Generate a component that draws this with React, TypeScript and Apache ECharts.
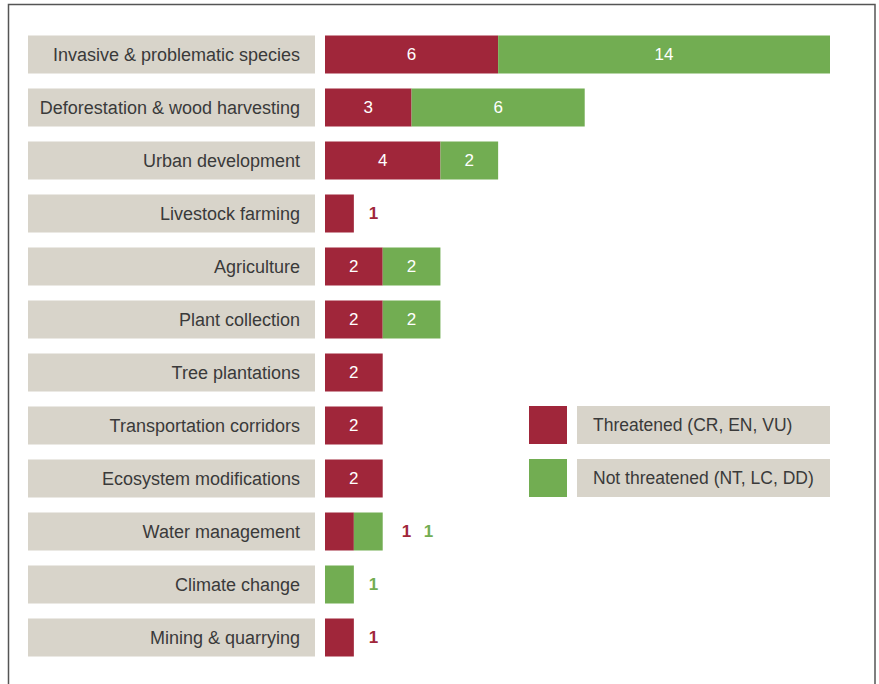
import React, { useEffect, useRef } from "react";
import * as echarts from "echarts";

const categories = [
  "Invasive & problematic species",
  "Deforestation & wood harvesting",
  "Urban development",
  "Livestock farming",
  "Agriculture",
  "Plant collection",
  "Tree plantations",
  "Transportation corridors",
  "Ecosystem modifications",
  "Water management",
  "Climate change",
  "Mining & quarrying",
];
const threatened = [6, 3, 4, 1, 2, 2, 2, 2, 2, 1, 0, 1];
const notThreatened = [14, 6, 2, 0, 2, 2, 0, 0, 0, 1, 1, 0];
const seriesNames = ["Threatened (CR, EN, VU)", "Not threatened (NT, LC, DD)"];

const RED = "#a0263a";
const GREEN = "#72ad52";
const BOX = "#d8d4ca";

function makeData(values: number[], other: number[], color: string, isFirst: boolean) {
  return values.map((v, i) => {
    if (v === 0) return { value: null };
    if (v === 1) {
      const both = values[i] === 1 && other[i] === 1;
      let offset = [0, 0];
      if (both) offset = isFirst ? [33, 0] : [26, 0];
      return {
        value: v,
        label: {
          show: true,
          position: "right",
          distance: 15,
          offset,
          color,
          fontWeight: "bold",
        },
      };
    }
    return { value: v };
  });
}

export default function App() {
  const ref = useRef<HTMLDivElement>(null);
  useEffect(() => {
    document.body.style.margin = "0";
    const chart = echarts.init(ref.current!, null, { renderer: "svg" });
    const font = "'Liberation Sans', Arial, sans-serif";
    chart.setOption({
      animation: false,
      textStyle: { fontFamily: font },
      grid: { left: 325, top: 28, width: 505, height: 636, containLabel: false },
      xAxis: {
        type: "value",
        min: 0,
        max: 17.5,
        show: false,
      },
      yAxis: {
        type: "category",
        data: categories,
        inverse: true,
        axisLine: { show: false },
        axisTick: { show: false },
        splitLine: { show: false },
        axisLabel: {
          margin: 10,
          color: "#3a3a3a",
          fontSize: 18,
          fontFamily: font,
          backgroundColor: BOX,
          width: 272,
          height: 38,
          lineHeight: 38,
          align: "right",
          padding: [0, 15, 0, 0],
        },
      },
      legend: {
        orient: "vertical",
        left: 529,
        top: 406,
        padding: 0,
        itemWidth: 38,
        itemHeight: 38,
        itemGap: 15,
        icon: "rect",
        data: seriesNames,
        formatter: (name: string) => `{g|}{b|${name}}`,
        textStyle: {
          rich: {
            g: { width: 5, height: 38 },
            b: {
              backgroundColor: BOX,
              width: 237,
              height: 38,
              lineHeight: 38,
              padding: [0, 0, 0, 16],
              fontSize: 17.5,
              color: "#3a3a3a",
              fontFamily: font,
            },
          },
        },
      },
      graphic: [
        {
          type: "rect",
          shape: { x: 8.5, y: 4.5, width: 866.5, height: 720 },
          style: { fill: "none", stroke: "#555", lineWidth: 1.5 },
          silent: true,
          z: 100,
        },
      ],
      series: [
        {
          name: seriesNames[0],
          type: "bar",
          stack: "total",
          barWidth: 38,
          itemStyle: { color: RED },
          label: {
            show: true,
            position: "inside",
            color: "#fff",
            fontSize: 17,
            fontFamily: font,
          },
          data: makeData(threatened, notThreatened, RED, true),
        },
        {
          name: seriesNames[1],
          type: "bar",
          stack: "total",
          barWidth: 38,
          itemStyle: { color: GREEN },
          label: {
            show: true,
            position: "inside",
            color: "#fff",
            fontSize: 17,
            fontFamily: font,
          },
          data: makeData(notThreatened, threatened, GREEN, false),
        },
      ],
    });
    return () => chart.dispose();
  }, []);
  return <div ref={ref} style={{ width: 879, height: 684 }} />;
}
